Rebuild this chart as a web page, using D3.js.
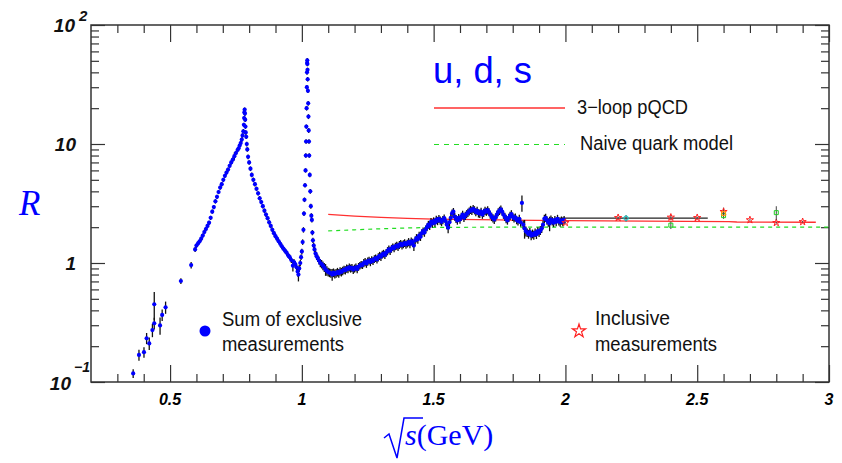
<!DOCTYPE html>
<html><head><meta charset="utf-8">
<script src="https://cdn.jsdelivr.net/npm/d3@7"></script>
<style>body{margin:0;background:#fff} svg{display:block}</style>
</head><body><svg id="c" width="842" height="463"></svg>
<script>
// exclusive sum: [sqrt(s), R, error]
const exclusive = [
[0.360,0.118,0.010],[0.382,0.169,0.018],[0.401,0.178,0.018],[0.411,0.233,0.025],[0.421,0.211,0.025],
[0.433,0.273,0.035],[0.440,0.311,0.035],[0.440,0.450,0.120],[0.462,0.299,0.050],[0.470,0.366,0.040],
[0.483,0.424,0.050],[0.541,0.706,0.040],[0.580,0.960,0.060],[0.595,1.30,0.06],[0.600,1.40,0.06],
[0.606,1.46,0.06],[0.612,1.52,0.06],[0.618,1.60,0.07],[0.624,1.70,0.07],[0.630,1.82,0.08],
[0.636,1.93,0.08],[0.642,2.05,0.09],[0.648,2.18,0.09],[0.654,2.40,0.10],[0.660,2.70,0.11],
[0.666,2.95,0.12],[0.672,3.30,0.14],[0.678,3.60,0.15],[0.684,3.95,0.16],[0.690,4.30,0.18],
[0.696,4.60,0.20],[0.702,5.00,0.20],[0.708,5.40,0.22],[0.714,5.75,0.24],[0.720,6.10,0.25],
[0.726,6.55,0.27],[0.732,7.00,0.30],[0.738,7.40,0.32],[0.744,7.90,0.60],[0.750,8.40,0.35],
[0.756,8.90,0.40],[0.760,9.20,0.40],[0.764,9.70,0.40],[0.768,10.2,0.45],[0.772,10.9,0.50],
[0.775,11.8,0.50],[0.778,12.8,0.55],[0.780,14.5,0.60],[0.781,16.5,0.70],[0.782,18.5,0.80],
[0.783,19.5,0.80],[0.784,18.0,0.80],[0.785,16.0,0.70],[0.786,14.0,0.60],[0.787,12.5,0.55],
[0.789,11.5,0.50],[0.791,10.0,0.45],[0.793,9.00,0.40],[0.796,7.80,0.35],[0.800,7.00,0.30],
[0.805,6.20,0.28],[0.810,5.50,0.25],[0.816,5.00,0.22],[0.822,4.60,0.20],[0.828,4.20,0.18],
[0.834,3.85,0.16],[0.840,3.50,0.15],[0.846,3.25,0.14],[0.852,3.00,0.13],[0.858,2.75,0.12],
[0.864,2.55,0.11],[0.870,2.38,0.10],[0.876,2.20,0.10],[0.882,2.05,0.09],[0.888,1.90,0.09],
[0.894,1.78,0.08],[0.900,1.68,0.08],[0.906,1.60,0.07],[0.912,1.52,0.07],[0.918,1.45,0.07],
[0.924,1.38,0.07],[0.930,1.32,0.06],[0.936,1.27,0.06],[0.942,1.22,0.06],[0.948,1.16,0.06],
[0.954,1.12,0.06],[0.960,1.06,0.06],[0.966,0.95,0.10],[0.970,1.02,0.06],[0.975,0.98,0.06],
[0.980,0.92,0.06],[0.984,0.85,0.08],[0.987,0.80,0.10],[0.990,0.90,0.06],[0.994,1.00,0.06],
[0.997,1.12,0.06],[1.000,1.25,0.07],[1.003,1.50,0.08],[1.006,1.90,0.10],[1.008,2.60,0.12],
[1.010,3.40,0.15],[1.012,4.50,0.20],[1.014,6.00,0.25],[1.015,8.00,0.35],[1.016,10.5,0.45],
[1.017,14.0,0.60],[1.018,20.0,0.90],[1.019,30.0,1.30],[1.0195,40.0,1.80],[1.020,48.0,2.00],
[1.0205,50.5,2.20],[1.021,47.0,2.00],[1.0215,42.0,1.80],[1.022,35.0,1.50],[1.023,28.0,1.20],
[1.024,22.0,1.00],[1.025,17.0,0.80],[1.026,13.0,0.60],[1.027,10.5,0.45],[1.028,8.00,0.35],
[1.030,5.50,0.25],[1.032,4.00,0.18],[1.034,3.00,0.14],[1.036,2.50,0.12],[1.038,2.30,0.11],
[1.040,1.80,0.09],[1.042,1.55,0.08],[1.045,1.40,0.08],[1.048,1.30,0.08],[1.052,1.20,0.08],
[1.056,1.14,0.08],[1.060,1.10,0.08],[1.065,1.05,0.08],[1.070,1.00,0.08],[1.075,0.98,0.08],
[1.080,0.95,0.08],[1.085,0.92,0.08],[1.090,0.88,0.10],[1.095,0.86,0.08],[1.100,0.84,0.07],
[1.105,0.83,0.07],[1.110,0.82,0.07],[1.115,0.80,0.09],[1.120,0.83,0.07],[1.125,0.81,0.07],
[1.130,0.82,0.07],[1.135,0.84,0.07],[1.140,0.82,0.07],[1.145,0.85,0.07],[1.150,0.84,0.07],
[1.155,0.86,0.07],[1.160,0.88,0.07],[1.165,0.87,0.07],[1.170,0.90,0.07],[1.175,0.89,0.07],
[1.180,0.92,0.07],[1.185,0.90,0.07],[1.190,0.91,0.07],[1.195,0.88,0.07],[1.200,0.90,0.07],
[1.205,0.92,0.07],[1.210,0.89,0.07],[1.215,0.93,0.07],[1.220,0.95,0.07],[1.225,0.97,0.07],
[1.230,0.96,0.07],[1.235,1.00,0.08],[1.240,1.02,0.08],[1.245,0.99,0.08],[1.250,1.03,0.08],
[1.255,1.05,0.08],[1.260,1.02,0.08],[1.265,1.06,0.08],[1.270,1.04,0.08],[1.275,1.08,0.08],
[1.280,1.10,0.08],[1.285,1.07,0.08],[1.290,1.12,0.09],[1.295,1.15,0.09],[1.300,1.13,0.09],
[1.305,1.18,0.09],[1.310,1.20,0.09],[1.315,1.17,0.09],[1.320,1.22,0.09],[1.325,1.26,0.10],
[1.330,1.30,0.10],[1.335,1.27,0.10],[1.340,1.32,0.10],[1.345,1.36,0.10],[1.350,1.33,0.10],
[1.355,1.38,0.10],[1.360,1.40,0.11],[1.365,1.37,0.11],[1.370,1.42,0.11],[1.375,1.45,0.11],
[1.380,1.41,0.11],[1.385,1.44,0.11],[1.390,1.47,0.11],[1.395,1.43,0.11],[1.400,1.46,0.11],
[1.405,1.50,0.12],[1.410,1.45,0.12],[1.415,1.52,0.12],[1.420,1.48,0.12],[1.425,1.40,0.14],
[1.430,1.55,0.12],[1.435,1.62,0.13],[1.440,1.58,0.13],[1.445,1.70,0.13],[1.450,1.66,0.13],
[1.455,1.78,0.14],[1.460,1.85,0.14],[1.465,1.80,0.14],[1.470,1.92,0.15],[1.475,2.00,0.15],
[1.480,2.10,0.16],[1.485,2.05,0.16],[1.490,2.22,0.17],[1.495,2.15,0.17],[1.500,2.25,0.17],
[1.505,2.18,0.17],[1.510,2.32,0.18],[1.515,2.26,0.18],[1.520,2.35,0.18],[1.525,2.28,0.18],
[1.530,2.22,0.18],[1.535,2.30,0.18],[1.540,2.38,0.18],[1.545,2.25,0.18],[1.550,2.10,0.18],
[1.555,1.98,0.20],[1.560,2.20,0.18],[1.565,2.40,0.18],[1.570,2.62,0.20],[1.575,2.70,0.20],
[1.580,2.45,0.18],[1.585,2.35,0.18],[1.590,2.28,0.18],[1.595,2.40,0.18],[1.600,2.32,0.18],
[1.605,2.45,0.19],[1.610,2.55,0.20],[1.615,2.40,0.19],[1.620,2.50,0.20],[1.625,2.58,0.20],
[1.630,2.65,0.21],[1.635,2.72,0.21],[1.640,2.80,0.22],[1.645,2.75,0.22],[1.650,2.85,0.22],
[1.655,2.78,0.22],[1.660,2.68,0.21],[1.665,2.75,0.22],[1.670,2.62,0.21],[1.675,2.60,0.21],
[1.680,2.70,0.21],[1.685,2.55,0.20],[1.690,2.65,0.21],[1.695,2.75,0.22],[1.700,2.70,0.21],
[1.705,2.78,0.22],[1.710,2.68,0.21],[1.715,2.55,0.20],[1.720,2.45,0.20],[1.725,2.38,0.19],
[1.730,2.32,0.19],[1.735,2.42,0.19],[1.740,2.55,0.20],[1.745,2.68,0.21],[1.750,2.75,0.22],
[1.755,2.82,0.22],[1.760,2.70,0.21],[1.765,2.55,0.20],[1.770,2.45,0.20],[1.775,2.35,0.19],
[1.780,2.28,0.18],[1.785,2.40,0.19],[1.790,2.50,0.20],[1.795,2.58,0.20],[1.800,2.45,0.20],
[1.805,2.38,0.19],[1.810,2.42,0.19],[1.815,2.30,0.18],[1.820,2.25,0.18],[1.825,2.35,0.19],
[1.830,2.20,0.18],[1.835,3.20,0.50],[1.840,2.10,0.18],[1.845,1.95,0.35],[1.850,1.85,0.18],
[1.855,1.80,0.15],[1.860,1.75,0.15],[1.865,1.82,0.15],[1.870,1.70,0.15],[1.875,1.76,0.15],
[1.880,1.72,0.15],[1.885,1.80,0.15],[1.890,1.74,0.15],[1.895,1.85,0.15],[1.900,1.80,0.15],
[1.905,1.88,0.16],[1.910,1.95,0.16],[1.915,2.10,0.17],[1.920,2.35,0.19],[1.925,2.40,0.19],
[1.930,2.28,0.18],[1.935,2.20,0.18],[1.940,2.15,0.30],[1.945,2.32,0.19],[1.950,2.25,0.18],
[1.955,2.18,0.18],[1.960,2.30,0.18],[1.965,2.22,0.18],[1.970,2.35,0.19],[1.975,2.25,0.18],
[1.980,2.20,0.18],[1.985,2.28,0.18],[1.990,2.22,0.18],[1.995,2.30,0.18]
];
// inclusive measurements (different experiments)
const inclRed    = [[2.00,2.18,0.04],[2.20,2.40,0.04],[2.40,2.42,0.12],[2.50,2.40,0.04],[2.60,2.70,0.22],[2.70,2.30,0.04],[2.80,2.18,0.04],[2.90,2.22,0.04]];
const inclCyan   = [[2.23,2.38,0.15]];
const inclGreen  = [[2.40,2.08,0.15],[2.60,2.50,0.15],[2.80,2.65,0.35]];
const inclOrange = [[2.60,2.60,0.15]];
// theory curves
const pqcd  = [[1.10,2.56],[1.20,2.48],[1.30,2.42],[1.40,2.37],[1.50,2.34],[1.75,2.30],[2.00,2.27],[2.30,2.25],[2.62,2.23],[2.65,2.21],[2.95,2.20]];
const naive = [[1.10,1.86],[1.20,1.90],[1.30,1.94],[1.40,1.97],[1.50,1.99],[1.70,2.00],[3.00,2.00]];
const blackLine = [[1.98,2.38],[2.54,2.38]];
// axis ticks
const xMajor = [0.5,1,1.5,2,2.5,3];
const xMajorLabels = ["0.5","1","1.5","2","2.5","3"];
const xMinor = [0.3,0.4,0.6,0.7,0.8,0.9,1.1,1.2,1.3,1.4,1.6,1.7,1.8,1.9,2.1,2.2,2.3,2.4,2.6,2.7,2.8,2.9];
const yMajor = [0.1,1,10,100];
const yMinor = [0.2,0.3,0.4,0.5,0.6,0.7,0.8,0.9,2,3,4,5,6,7,8,9,20,30,40,50,60,70,80,90];

const svg = d3.select("#c");
const L=91,R=829,T=25,B=382;
const x = d3.scaleLinear().domain([0.2,3]).range([L,R]);
const y = d3.scaleLog().domain([0.1,100]).range([B,T]);

function ax(gen, tr, vals, size){
  const g = svg.append("g").attr("transform",tr)
    .call(gen.tickValues(vals).tickSizeInner(size).tickSizeOuter(0).tickFormat(""));
  g.select(".domain").remove();
  g.selectAll("line").attr("stroke","#333").attr("stroke-width",1.2);
}
ax(d3.axisBottom(x), `translate(0,${B})`, xMinor, -8);
ax(d3.axisBottom(x), `translate(0,${B})`, xMajor, -17);
ax(d3.axisTop(x), `translate(0,${T})`, xMinor, -8);
ax(d3.axisTop(x), `translate(0,${T})`, xMajor, -17);
ax(d3.axisLeft(y), `translate(${L},0)`, yMinor, -8);
ax(d3.axisLeft(y), `translate(${L},0)`, yMajor, -14);
ax(d3.axisRight(y), `translate(${R},0)`, yMinor, -8);
ax(d3.axisRight(y), `translate(${R},0)`, yMajor, -14);

svg.append("rect").attr("x",L).attr("y",T).attr("width",R-L).attr("height",B-T)
  .attr("fill","none").attr("stroke","#333").attr("stroke-width",1.5);

const tickFont = "'Liberation Sans', Arial, sans-serif";
// x tick labels
svg.append("g").selectAll("text").data(xMajor).join("text")
  .attr("x",d=>x(d)).attr("y",405).attr("text-anchor","middle")
  .attr("font-family",tickFont).attr("font-weight","bold").attr("font-style","italic")
  .attr("font-size",16).text((d,i)=>xMajorLabels[i]);
// y tick labels
function ylab(val, base, exp, xr){
  const t = svg.append("text").attr("font-family",tickFont).attr("font-weight","bold")
    .attr("font-style","italic").attr("font-size",19).attr("fill","#111");
  t.attr("x",xr).attr("y",y(val)+7).attr("text-anchor","end").text(base);
  if(exp) svg.append("text").attr("x",xr+4).attr("y",y(val)-4)
    .attr("font-family",tickFont).attr("font-weight","bold").attr("font-style","italic")
    .attr("font-size",15).attr("fill","#111").text(exp);
}
ylab(100,"10","2",75);
ylab(10,"10",null,76);
ylab(1,"1",null,76);
svg.append("text").attr("x",71).attr("y",390).attr("text-anchor","end")
  .attr("font-family",tickFont).attr("font-weight","bold").attr("font-style","italic")
  .attr("font-size",19).attr("fill","#111").text("10");
svg.append("text").attr("x",74).attr("y",372)
  .attr("font-family",tickFont).attr("font-weight","bold").attr("font-style","italic")
  .attr("font-size",14).attr("fill","#111").text("\u22121");

// clip
svg.append("clipPath").attr("id","cp").append("rect").attr("x",L).attr("y",T).attr("width",R-L).attr("height",B-T);
const plot = svg.append("g").attr("clip-path","url(#cp)");

const line = d3.line().x(d=>x(d[0])).y(d=>y(d[1]));
plot.append("path").datum(naive).attr("d",line).attr("fill","none")
  .attr("stroke","#22dd22").attr("stroke-width",1.2).attr("stroke-dasharray","4,4");
plot.append("path").datum(pqcd).attr("d",line).attr("fill","none")
  .attr("stroke","#ff3030").attr("stroke-width",1.3);
plot.append("path").datum(blackLine).attr("d",line).attr("fill","none")
  .attr("stroke","#222").attr("stroke-width",1.2);

// exclusive error bars + dots
plot.append("g").selectAll("line").data(exclusive).join("line")
  .attr("x1",d=>x(d[0])).attr("x2",d=>x(d[0]))
  .attr("y1",d=>y(d[1]+d[2])).attr("y2",d=>y(Math.max(d[1]-d[2],0.101)))
  .attr("stroke","#111").attr("stroke-width",1.3);
plot.append("g").selectAll("circle").data(exclusive).join("circle")
  .attr("cx",d=>x(d[0])).attr("cy",d=>y(d[1])).attr("r",2.1).attr("fill","#0000ff");

// inclusive
function incl(data, color, kind){
  const g = plot.append("g");
  g.selectAll("line").data(data).join("line")
    .attr("x1",d=>x(d[0])).attr("x2",d=>x(d[0]))
    .attr("y1",d=>y(d[1]+d[2])).attr("y2",d=>y(d[1]-d[2]))
    .attr("stroke","#444").attr("stroke-width",1);
  const sym = d3.symbol().type(kind).size(16);
  g.selectAll("path").data(data).join("path")
    .attr("transform",d=>`translate(${x(d[0])},${y(d[1])})`).attr("d",sym())
    .attr("fill","none").attr("stroke",color).attr("stroke-width",1);
}
incl(inclRed,"#ff2020",d3.symbolStar);
incl(inclGreen,"#22cc22",d3.symbolSquare);
incl(inclOrange,"#ff9900",d3.symbolSquare);
incl(inclCyan,"#00cccc",d3.symbolCircle);

// titles
svg.append("text").attr("x",433).attr("y",83).attr("fill","#0000ff")
  .attr("font-family","'Liberation Sans', Arial, sans-serif").attr("font-size",36)
  .attr("textLength",99).attr("lengthAdjust","spacingAndGlyphs").text("u, d, s");

// legend
svg.append("line").attr("x1",434).attr("x2",565).attr("y1",108).attr("y2",108)
  .attr("stroke","#ff3030").attr("stroke-width",1.3);
svg.append("line").attr("x1",434).attr("x2",565).attr("y1",144.5).attr("y2",144.5)
  .attr("stroke","#22dd22").attr("stroke-width",1.2).attr("stroke-dasharray","5,5");
const lf = "'Liberation Sans', Arial, sans-serif";
function ltext(xx,yy,str,len){
  svg.append("text").attr("x",xx).attr("y",yy).attr("font-family",lf).attr("font-size",20)
    .attr("fill","#111").attr("textLength",len).attr("lengthAdjust","spacingAndGlyphs").text(str);
}
ltext(577,114,"3\u2212loop pQCD",111);
ltext(580,150,"Naive quark model",153);
svg.append("circle").attr("cx",205).attr("cy",331).attr("r",5.5).attr("fill","#0000ff");
ltext(222,326,"Sum of exclusive",140);
ltext(222,351,"measurements",122);
svg.append("path").attr("transform","translate(579,331)")
  .attr("d",d3.symbol().type(d3.symbolStar).size(55)()).attr("fill","none")
  .attr("stroke","#ff2020").attr("stroke-width",1.2);
ltext(595,325,"Inclusive",75);
ltext(595,351,"measurements",122);

// axis titles
svg.append("text").attr("x",19).attr("y",215).attr("fill","#0000ff")
  .attr("font-family","'Liberation Serif', 'DejaVu Serif', serif").attr("font-style","italic")
  .attr("font-size",35).text("R");
svg.append("path").attr("d","M384,438 L389,434 L397,458 L404,418 L423,418")
  .attr("fill","none").attr("stroke","#0000ff").attr("stroke-width",1.5);
const xt = svg.append("text").attr("x",405).attr("y",445).attr("fill","#0000ff")
  .attr("font-family","'Liberation Serif', 'DejaVu Serif', serif").attr("font-size",30);
xt.append("tspan").attr("font-style","italic").text("s");
xt.append("tspan").text("(GeV)");
</script></body></html>
